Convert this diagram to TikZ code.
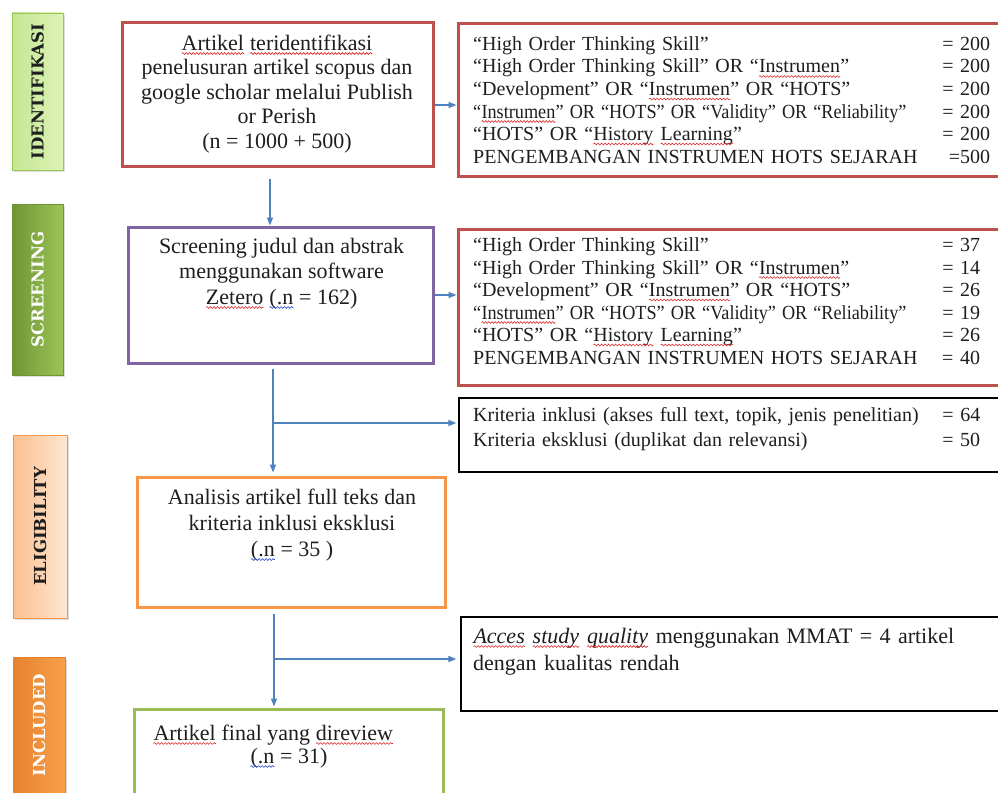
\documentclass[tikz,border=0pt]{standalone}
\usepackage{fontspec}
\usepackage{graphicx}
\setmainfont{Liberation Serif}
\newfontfamily\stagefont{DejaVu Serif}
\usetikzlibrary{arrows.meta,positioning,shadows,decorations.pathmorphing}
\definecolor{PrismaRed}{HTML}{C0504D}
\definecolor{PrismaPurple}{HTML}{8064A2}
\definecolor{PrismaOrange}{HTML}{F79646}
\definecolor{PrismaGreen}{HTML}{9BBB59}
\definecolor{PrismaBlue}{HTML}{4F81BD}
\definecolor{PrismaInk}{HTML}{1E1E1E}
\definecolor{LimeLight}{HTML}{DDF3B6}
\definecolor{LimeMid}{HTML}{C5E794}
\definecolor{LeafTop}{HTML}{9CC457}
\definecolor{LeafLow}{HTML}{6F9534}
\definecolor{PeachTop}{HTML}{FDE6D3}
\definecolor{PeachLow}{HTML}{FBC08E}
\definecolor{AmberTop}{HTML}{F9A04C}
\definecolor{AmberLow}{HTML}{E5822E}
\definecolor{WaveRed}{HTML}{E02020}
\definecolor{WaveBlue}{HTML}{2040D0}
\tikzset{
  every node/.style={text=PrismaInk},
  stagebox/.style={draw=#1, line width=0.8pt, rotate=90, inner sep=0pt,
    font=\stagefont\bfseries\fontsize{16.5}{16.5}\selectfont,
    drop shadow={opacity=0.25, shadow xshift=1.5pt, shadow yshift=-2pt}},
  flowbox/.style={draw=#1, line width=3pt, fill=white, inner sep=0pt},
  hitbox/.style={draw=#1, line width=3pt, fill=white, inner sep=0pt},
  notebox/.style={draw=black, line width=1.3pt, fill=white, inner sep=0pt},
  boxtext/.style={font=\fontsize{22}{24.5}\selectfont, align=center, inner sep=0pt},
  hittext/.style={font=\fontsize{20}{22.5}\selectfont, align=left, inner sep=0pt},
  flow/.style={-{Triangle[length=8pt,width=6pt]}, draw=PrismaBlue, line width=1.5pt},
  wavy/.style={draw=#1, line width=0.6pt, decorate,
    decoration={snake, amplitude=0.9pt, segment length=3.5pt}},
}
% spell-check marks under single words
\newcommand{\markwave}[2]{\tikz[baseline=(w.base)]{%
  \node[inner sep=0pt, outer sep=0pt, text width={}, align=none, anchor=base] (w) {#2};
  \draw[wavy=#1] ([yshift=-3.5pt]w.base west) -- ([yshift=-3.5pt]w.base east);}}
\newcommand{\redwave}[1]{\markwave{WaveRed}{#1}}
\newcommand{\bluewave}[1]{\markwave{WaveBlue}{#1}}
\begin{document}
\begin{tikzpicture}[x=1pt,y=-1pt]
  \clip (0,0) rectangle (998,792);
  \fill[white] (0,0) rectangle (998,792);
  % stage labels on the left
  \node[stagebox=LeafTop, minimum width=157, minimum height=51,
    left color=LimeMid, right color=LimeLight] (idstage) at (37.5,91.5) {IDENTIFIKASI};
  \node[stagebox=LeafLow, minimum width=171, minimum height=51,
    left color=LeafLow, right color=LeafTop, text=white] (scstage) at (37.5,289.5) {SCREENING};
  \node[stagebox=PrismaOrange, minimum width=183, minimum height=54,
    left color=PeachLow, right color=PeachTop] (elstage) at (40,526.5) {ELIGIBILITY};
  \node[stagebox=AmberLow, minimum width=136, minimum height=52,
    left color=AmberLow, right color=AmberTop, text=white] (instage) at (39,725) {INCLUDED};
  % main column
  \node[flowbox=PrismaRed, minimum width=311, minimum height=143] (idbox) at (277.5,94.5) {};
  \node[boxtext, anchor=base] (idtext) at (277,148) {\redwave{Artikel} \redwave{teridentifikasi}\\
    penelusuran artikel scopus dan\\ google scholar melalui Publish\\ or Perish\\ (n = 1000 + 500)};
  \node[flowbox=PrismaPurple, minimum width=305, minimum height=136] (scbox) at (280.5,295) {};
  \node[boxtext, anchor=base, font=\fontsize{22}{25.5}\selectfont] (sctext) at (281.5,304) {Screening judul dan abstrak\\
    menggunakan software\\ \redwave{Zetero} \bluewave{(.n} = 162)};
  \node[flowbox=PrismaOrange, minimum width=308, minimum height=130] (elbox) at (291,542) {};
  \node[boxtext, anchor=base, font=\fontsize{22}{26}\selectfont] (eltext) at (292,556) {Analisis artikel full teks dan\\
    kriteria inklusi eksklusi\\ \bluewave{(.n} = 35 )};
  \node[flowbox=PrismaGreen, minimum width=309, minimum height=101] (fnbox) at (288.5,759.5) {};
  \node[boxtext, align=left, anchor=base west, font=\fontsize{22}{23}\selectfont] (fntext) at (153,763) {\redwave{Artikel} final yang \redwave{direview}\\
    \hspace*{97pt}\bluewave{(.n} = 31)};
  % search hits and exclusions
  \node[hitbox=PrismaRed, minimum width=547, minimum height=152] (hits1) at (731.5,100) {};
  \node[hittext, text width=517pt, anchor=base west] (hits1text) at (473,50.5) {%
    “High Order Thinking Skill”\hfill= 200\\
    “High Order Thinking Skill” OR “\redwave{Instrumen}”\hfill= 200\\
    “Development” OR “\redwave{Instrumen}” OR “HOTS”\hfill= 200\\
    \scalebox{0.91}[1]{“\redwave{Instrumen}” OR “HOTS” OR “Validity” OR “Reliability”}\hfill= 200\\
    “HOTS” OR “\redwave{History} \redwave{Learning}”\hfill= 200\\
    PENGEMBANGAN INSTRUMEN HOTS SEJARAH\hfill=500};
  \node[hitbox=PrismaRed, minimum width=547, minimum height=156] (hits2) at (731.5,307) {};
  \node[hittext, text width=507pt, anchor=base west] (hits2text) at (473,251.5) {%
    “High Order Thinking Skill”\hfill= 37\\
    “High Order Thinking Skill” OR “\redwave{Instrumen}”\hfill= 14\\
    “Development” OR “\redwave{Instrumen}” OR “HOTS”\hfill= 26\\
    \scalebox{0.91}[1]{“\redwave{Instrumen}” OR “HOTS” OR “Validity” OR “Reliability”}\hfill= 19\\
    “HOTS” OR “\redwave{History} \redwave{Learning}”\hfill= 26\\
    PENGEMBANGAN INSTRUMEN HOTS SEJARAH\hfill= 40};
  \node[notebox, minimum width=546, minimum height=74] (krbox) at (732,435) {};
  \node[hittext, text width=507pt, anchor=base west,
    font=\fontsize{20}{25}\selectfont] (krtext) at (473,421.5) {%
    Kriteria inklusi (akses full text, topik, jenis penelitian)\hfill= 64\\
    Kriteria eksklusi (duplikat dan relevansi)\hfill= 50};
  \node[notebox, minimum width=544, minimum height=94] (qabox) at (733,664) {};
  \node[hittext, text width=510pt, anchor=base west,
    font=\fontsize{22}{27}\selectfont] (qatext) at (473,643) {%
    \redwave{\textit{Acces}} \redwave{\textit{study}} \redwave{\textit{quality}} menggunakan MMAT = 4 artikel\\
    dengan kualitas rendah};
  % connectors
  \coordinate (br1) at (273,423);
  \coordinate (br2) at (274,659);
  \draw[flow, shorten <=11pt] ([xshift=-7.5pt]idbox.south) -- ([xshift=-7.5pt]idbox.south |- scbox.north);
  \draw[flow] ([yshift=-10.5pt]idbox.east) -- ([yshift=-10.5pt]idbox.east -| hits1.west);
  \draw[flow] (scbox.east) -- (scbox.east -| hits2.west);
  \draw[flow, shorten <=4pt, shorten >=3pt] ([xshift=-7.5pt]scbox.south) -- (br1 |- elbox.north);
  \draw[flow, shorten >=2pt] (br1) -- (br1 -| krbox.west);
  \draw[flow, shorten <=5pt, shorten >=1pt] (br2 |- elbox.south) -- (br2 |- fnbox.north);
  \draw[flow, shorten >=4pt] (br2) -- (br2 -| qabox.west);
\end{tikzpicture}
\end{document}
